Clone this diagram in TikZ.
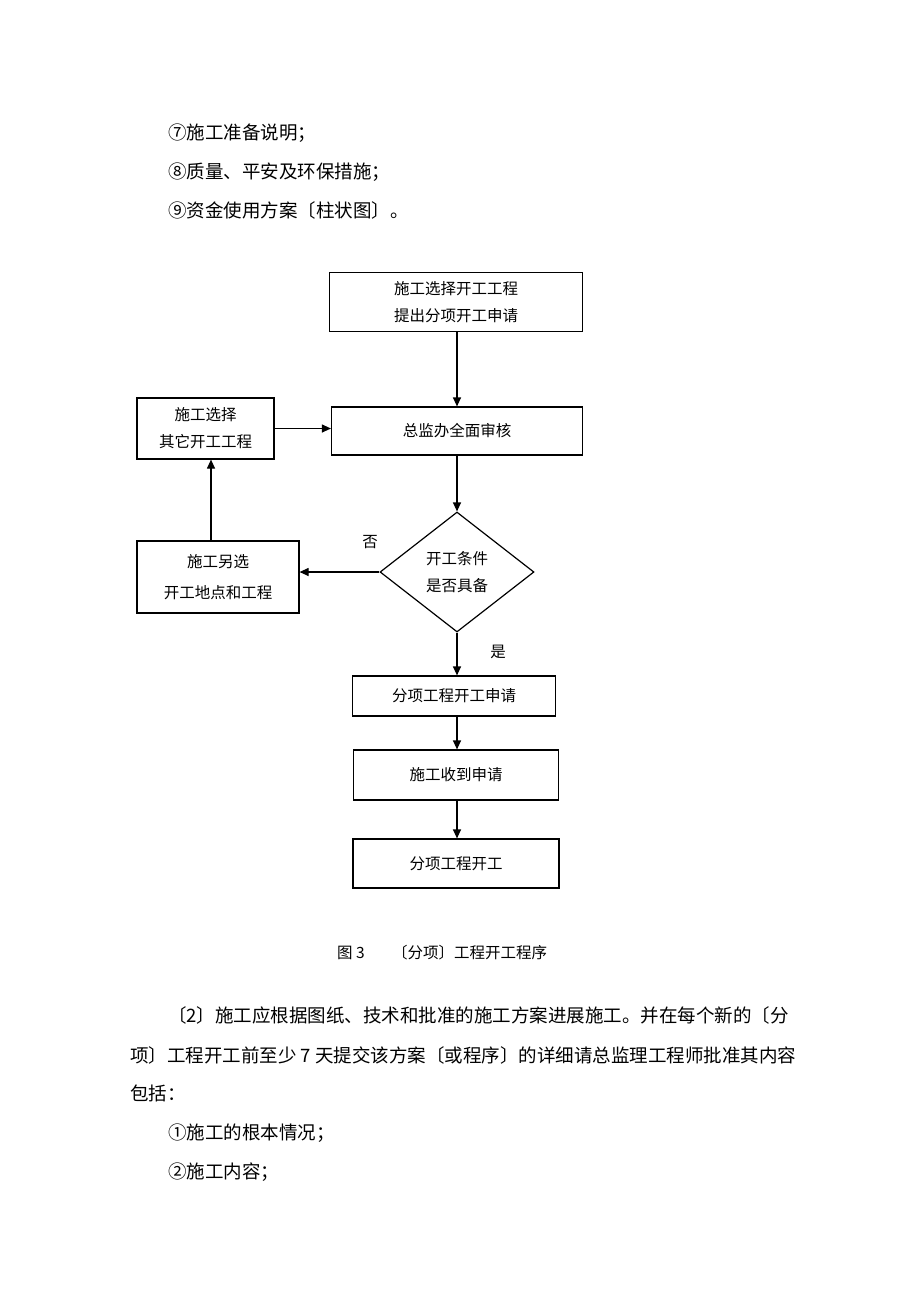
\documentclass[tikz,border=0pt]{standalone}
\usepackage{fontspec}
\setmainfont{Noto Sans CJK SC}
\usetikzlibrary{shapes.geometric,arrows.meta,calc}

\begin{document}
\begin{tikzpicture}[x=1pt, y=-1pt,
    block/.style={rectangle, draw, line width=1.2pt, align=center, inner sep=2pt, font=\fontsize{15.5}{27}\selectfont},
    decision/.style={diamond, draw, line width=1.2pt, aspect=1.3, inner sep=0pt, align=center, font=\fontsize{15.5}{27}\selectfont},
    flow/.style={-{Triangle[length=9pt,width=8pt]}, line width=1.2pt},
    bodyline/.style={anchor=west, inner sep=0pt, font=\fontsize{18.5}{22}\selectfont},
    caption/.style={anchor=west, inner sep=0pt, font=\fontsize{15.5}{18}\selectfont},
    answer/.style={inner sep=0pt, font=\fontsize{15.5}{18}\selectfont}]
    \useasboundingbox (0,0) rectangle (920,1302);
    % text above the figure
    \node [bodyline] (item7) at (168,133) {⑦施工准备说明；};
    \node [bodyline] (item8) at (168,172) {⑧质量、平安及环保措施；};
    \node [bodyline] (item9) at (168,210) {⑨资金使用方案〔柱状图〕。};
    % flow chart
    \node [block, minimum width=253pt, minimum height=59pt] (apply) at (456,302) {施工选择开工工程\\提出分项开工申请};
    \node [block, minimum width=251pt, minimum height=48pt] (review) at (457,431) {总监办全面审核};
    \node [block, minimum width=137pt, minimum height=61pt] (other) at (205.5,428.5) {施工选择\\其它开工工程};
    \node [decision, minimum width=154pt, minimum height=120pt] (cond) at (457,572) {开工条件\\是否具备};
    \node [block, minimum width=162pt, minimum height=72pt, font=\fontsize{15.5}{31}\selectfont] (alt) at (218,577) {施工另选\\开工地点和工程};
    \node [block, minimum width=203pt, minimum height=40pt] (subapply) at (454,696) {分项工程开工申请};
    \node [block, minimum width=205pt, minimum height=50pt] (receive) at (456,775) {施工收到申请};
    \node [block, minimum width=206pt, minimum height=49pt] (start) at (456,863.5) {分项工程开工};
    \node [answer] (no) at (370,542) {否};
    \node [answer] (yes) at (498,652) {是};
    \draw [flow] (apply.south -| cond.north) -- (review.north -| cond.north);
    \draw [flow] (other.east) -- (other.east -| review.west);
    \draw [flow] (review.south -| cond.north) -- (cond.north);
    \draw [flow] (cond.west) -- (cond.west -| alt.east);
    \draw [flow] ([xshift=-7pt]alt.north) -- ([xshift=-7pt]alt.north |- other.south);
    \draw [flow] (cond.south) -- (cond.south |- subapply.north);
    \draw [flow] (subapply.south -| cond.south) -- (cond.south |- receive.north);
    \draw [flow] (receive.south -| cond.south) -- (cond.south |- start.north);
    % caption and text below
    \node [caption] (fignum) at (337,953) {图 3};
    \node [caption] (figtitle) at (392,953) {〔分项〕工程开工程序};
    \node [bodyline] (para1) at (168,1015) {〔2〕施工应根据图纸、技术和批准的施工方案进展施工。并在每个新的〔分};
    \node [bodyline] (para2) at (130,1055) {项〕工程开工前至少 7 天提交该方案〔或程序〕的详细请总监理工程师批准其内容};
    \node [bodyline] (para3) at (130,1093) {包括：};
    \node [bodyline] (item1) at (168,1133) {①施工的根本情况；};
    \node [bodyline] (item2) at (168,1172) {②施工内容；};
\end{tikzpicture}
\end{document}
